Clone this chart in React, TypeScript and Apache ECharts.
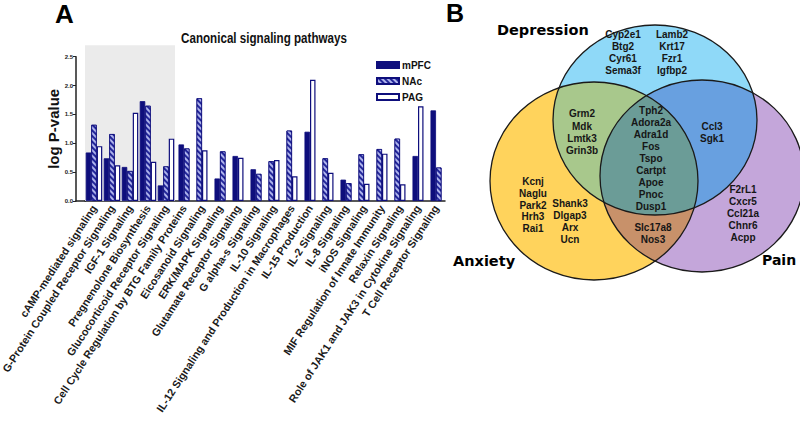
import React, { useEffect, useRef } from "react";
import * as echarts from "echarts";

const categories = [
  "cAMP-mediated signaling",
  "G-Protein Coupled Receptor Signaling",
  "IGF-1 Signaling",
  "Pregnenolone Biosynthesis",
  "Glucocorticoid Receptor Signaling",
  "Cell Cycle Regulation by BTG Family Proteins",
  "Eicosanoid Signaling",
  "ERK/MAPK Signaling",
  "Glutamate Receptor Signaling",
  "G alpha-s Signaling",
  "IL-10 Signaling",
  "IL-12 Signaling and Production in Macrophages",
  "IL-15 Production",
  "IL-2 Signaling",
  "IL-8 Signaling",
  "iNOS Signaling",
  "MIF Regulation of Innate Immunity",
  "Relaxin Signaling",
  "Role of JAK1 and JAK3 in Cytokine Signaling",
  "T Cell Receptor Signaling",
];

const mPFC = [0.84, 0.74, 0.59, 1.73, 0.27, 0.98, null, 0.39, 0.78, 0.55, null, null, 1.2, null, 0.37, null, null, null, 0.78, 1.57];
const NAc = [1.32, 1.16, 0.52, 1.65, 0.6, 0.91, 1.78, 0.86, null, 0.47, 0.69, 1.22, null, 0.74, 0.31, 0.81, 0.9, 1.08, null, 0.58];
const PAG = [0.95, 0.62, 1.53, 0.68, 1.08, null, 0.88, null, 0.75, null, 0.71, 0.43, 2.1, 0.49, null, 0.3, 0.82, 0.29, 1.64, null];
const shaded = [2.7, 2.7, 2.7, 2.7, 2.7, null, null, null, null, null, null, null, null, null, null, null, null, null, null, null];
const yTicks = [0, 0.5, 1.0, 1.5, 2.0, 2.5];
const seriesNames = ["mPFC", "NAc", "PAG"];

const depressionOnly1 = ["Cyp2e1", "Btg2", "Cyr61", "Sema3f"];
const depressionOnly2 = ["Lamb2", "Krt17", "Fzr1", "Igfbp2"];
const depAnx = ["Grm2", "Mdk", "Lmtk3", "Grin3b"];
const allThree = ["Tph2", "Adora2a", "Adra1d", "Fos", "Tspo", "Cartpt", "Apoe", "Pnoc", "Dusp1"];
const depPain = ["Ccl3", "Sgk1"];
const anxietyOnly1 = ["Kcnj", "Naglu", "Park2", "Hrh3", "Rai1"];
const anxietyOnly2 = ["Shank3", "Dlgap3", "Arx", "Ucn"];
const anxPain = ["Slc17a8", "Nos3"];
const painOnly = ["F2rL1", "Cxcr5", "Ccl21a", "Chnr6", "Acpp"];

const NAVY = "#0E0E7C";

type Ell = { cx: number; cy: number; rx: number; ry: number };
const D: Ell = { cx: 655, cy: 120, rx: 102, ry: 95 };
const A: Ell = { cx: 594, cy: 181, rx: 104, ry: 99 };
const P: Ell = { cx: 702, cy: 176, rx: 102, ry: 96 };

function inside(e: Ell, p: number[]) {
  const dx = (p[0] - e.cx) / e.rx;
  const dy = (p[1] - e.cy) / e.ry;
  return dx * dx + dy * dy <= 1.0005;
}
function region(es: Ell[]) {
  const pts: number[][] = [];
  es.forEach((e, i) => {
    for (let k = 0; k < 720; k++) {
      const t = (k / 720) * Math.PI * 2;
      const p = [e.cx + e.rx * Math.cos(t), e.cy + e.ry * Math.sin(t)];
      if (es.every((o, j) => j === i || inside(o, p))) pts.push(p);
    }
  });
  const mx = pts.reduce((s, p) => s + p[0], 0) / pts.length;
  const my = pts.reduce((s, p) => s + p[1], 0) / pts.length;
  pts.sort((a, b) => Math.atan2(a[1] - my, a[0] - mx) - Math.atan2(b[1] - my, b[0] - mx));
  return pts;
}

function geneText(lines: string[], x: number, yFirst: number, gap = 12) {
  return {
    type: "text",
    x,
    y: yFirst - gap / 2,
    silent: true,
    z: 20,
    style: {
      text: lines.join("\n"),
      fill: "#161616",
      font: "bold 10px 'Liberation Sans', Arial, sans-serif",
      lineHeight: gap,
      textAlign: "center",
      textVerticalAlign: "top",
    },
  };
}

const styles: Record<string, any> = {
  mPFC: { color: NAVY, borderColor: NAVY, borderWidth: 0.8 },
  NAc: {
    color: "#23279A",
    borderColor: NAVY,
    borderWidth: 0.8,
    decal: {
      symbol: "rect",
      symbolSize: 1,
      color: "rgba(200,205,250,0.85)",
      dashArrayX: [1, 0],
      dashArrayY: [1.2, 1.6],
      rotation: Math.PI / 4,
    },
  },
  PAG: { color: "#ffffff", borderColor: NAVY, borderWidth: 1.2 },
};

export default function App() {
  const ref = useRef<HTMLDivElement>(null);
  useEffect(() => {
    if (!ref.current) return;
    const chart = echarts.init(ref.current, null, { renderer: "svg" });
    const groups = [mPFC, NAc, PAG];
    const counts = categories.map((_, i) => groups.filter((g) => g[i] != null).length);
    const full = groups.map((g) => g.map((v, i) => (counts[i] === 3 ? v : null)));
    const pair = [0, 1].map((slot) =>
      categories.map((_, i) => {
        if (counts[i] !== 2) return null;
        const present = groups.map((g, k) => ({ v: g[i], k })).filter((o) => o.v != null);
        const o = present[slot];
        return { value: o.v, itemStyle: styles[seriesNames[o.k]] };
      })
    );
    const ellipseFill = (e: Ell, fill: string, z: number) => ({
      type: "ellipse",
      shape: { cx: e.cx, cy: e.cy, rx: e.rx, ry: e.ry },
      style: { fill },
      silent: true,
      z,
    });
    const ellipseStroke = (e: Ell) => ({
      type: "ellipse",
      shape: { cx: e.cx, cy: e.cy, rx: e.rx, ry: e.ry },
      style: { fill: "none", stroke: "#1a1a1a", lineWidth: 1.3 },
      silent: true,
      z: 15,
    });
    const poly = (pts: number[][], fill: string, z: number) => ({
      type: "polygon",
      shape: { points: pts },
      style: { fill },
      silent: true,
      z,
    });
    const BW = 5.5;
    const option: any = {
      animation: false,
      legend: {
        data: seriesNames,
        orient: "vertical",
        left: 371,
        top: 55,
        itemWidth: 22,
        itemHeight: 6,
        itemGap: 6,
        icon: "rect",
        textStyle: { fontFamily: "'Liberation Sans', Arial, sans-serif", fontWeight: "bold", fontSize: 10, color: "#111", padding: [0, 0, 0, -2] },
      },
      grid: { left: 85, right: 355, top: 56.7, bottom: 226, containLabel: false, outerBoundsMode: "none" },
      xAxis: [
        {
          type: "category",
          data: categories,
          axisLine: { lineStyle: { color: "#222", width: 1.5 } },
          axisTick: { alignWithLabel: true, length: 3, lineStyle: { color: "#222" } },
          axisLabel: {
            interval: 0,
            rotate: 57,
            margin: 5,
            fontSize: 10.8,
            fontWeight: "bold",
            fontFamily: "'Liberation Sans', Arial, sans-serif",
            color: "#1a1a1a",
          },
        },
        { type: "category", data: categories, show: false },
        { type: "category", data: categories, show: false },
      ],
      yAxis: {
        type: "value",
        min: yTicks[0],
        max: yTicks[yTicks.length - 1],
        interval: 0.5,
        offset: 9,
        name: "log P-value",
        nameLocation: "middle",
        nameGap: 12,
        nameTextStyle: { fontSize: 15, fontWeight: "bold", fontFamily: "'Liberation Sans', Arial, sans-serif", color: "#111" },
        axisLine: { show: true, lineStyle: { color: "#222", width: 1.5 } },
        axisTick: { show: true, length: 3, lineStyle: { color: "#222" } },
        axisLabel: { fontSize: 6, fontWeight: "bold", margin: 3, color: "#222", formatter: (v: number) => v.toFixed(1) },
        splitLine: { show: false },
      },
      series: [
        {
          name: "shade",
          type: "bar",
          xAxisIndex: 2,
          data: shaded,
          barWidth: "100%",
          clip: false,
          silent: true,
          z: 0,
          itemStyle: { color: "#EBEBEB" },
        },
        ...seriesNames.map((name, k) => ({
          name,
          type: "bar",
          xAxisIndex: 0,
          data: full[k],
          barWidth: BW,
          barGap: "0%",
          itemStyle: styles[name],
          z: 2,
        })),
        ...pair.map((data, s) => ({
          name: "pair" + s,
          type: "bar",
          xAxisIndex: 1,
          data,
          barWidth: BW,
          barGap: "0%",
          z: 2,
        })),
      ],
      graphic: [
        {
          type: "line",
          silent: true,
          shape: { x1: 75.5, y1: 201, x2: 86, y2: 201 },
          style: { stroke: "#222", lineWidth: 1.5 },
        },
        {
          type: "text",
          x: 264,
          y: 38,
          scaleX: 0.83,
          silent: true,
          style: {
            text: "Canonical signaling pathways",
            font: "bold 14px 'Liberation Sans', Arial, sans-serif",
            fill: "#111",
            textAlign: "center",
            textVerticalAlign: "middle",
          },
        },
        {
          type: "text",
          x: 55,
          y: 1,
          silent: true,
          style: { text: "A", font: "bold 26px 'Liberation Sans', Arial, sans-serif", fill: "#000" },
        },
        {
          type: "text",
          x: 446,
          y: 0,
          silent: true,
          style: { text: "B", font: "bold 25px 'Liberation Sans', Arial, sans-serif", fill: "#000" },
        },
        ellipseFill(A, "#FFD35C", 1),
        ellipseFill(P, "#C4A6DA", 2),
        ellipseFill(D, "#8FD9F8", 3),
        poly(region([D, A]), "#A8C88C", 5),
        poly(region([D, P]), "#68A0E0", 5),
        poly(region([A, P]), "#C8916A", 5),
        poly(region([D, A, P]), "#6B9C97", 6),
        ellipseStroke(A),
        ellipseStroke(P),
        ellipseStroke(D),
        {
          type: "text", x: 497, y: 30, silent: true, z: 20,
          style: { text: "Depression", font: "bold 14.5px 'DejaVu Sans', sans-serif", fill: "#000", textVerticalAlign: "middle" },
        },
        {
          type: "text", x: 453, y: 261, silent: true, z: 20,
          style: { text: "Anxiety", font: "bold 14.5px 'DejaVu Sans', sans-serif", fill: "#000", textVerticalAlign: "middle" },
        },
        {
          type: "text", x: 762, y: 260, silent: true, z: 20,
          style: { text: "Pain", font: "bold 14px 'DejaVu Sans', sans-serif", fill: "#000", textVerticalAlign: "middle" },
        },
        geneText(depressionOnly1, 623, 34),
        geneText(depressionOnly2, 672, 34),
        geneText(depAnx, 582, 114, 12.3),
        geneText(allThree, 651, 110),
        geneText(depPain, 712, 126),
        geneText(anxietyOnly1, 533, 182, 11.6),
        geneText(anxietyOnly2, 570, 204, 11.7),
        geneText(anxPain, 653, 227),
        geneText(painOnly, 743, 189, 12),
      ],
    };
    chart.setOption(option);
    return () => chart.dispose();
  }, []);
  return (
    <div
      ref={ref}
      style={{ position: "absolute", left: 0, top: 0, width: 800, height: 427, background: "#fff" }}
    />
  );
}
